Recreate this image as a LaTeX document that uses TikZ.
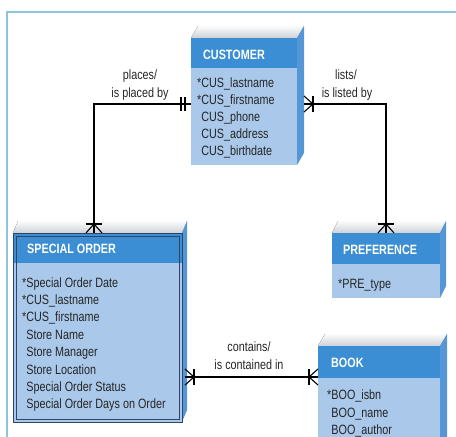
\documentclass[tikz,border=0pt]{standalone}
\usepackage{fontspec}
\setmainfont{Liberation Sans}[FakeStretch=0.8]
\usetikzlibrary{calc}

\definecolor{hdr}{HTML}{3B8ED3}
\definecolor{bodyc}{HTML}{A9C8EA}
\definecolor{sidec}{HTML}{5597D6}
\definecolor{topc}{HTML}{CDD2D7}
\definecolor{framec}{HTML}{8EC4DC}
\definecolor{sobord}{HTML}{2E4566}

\tikzset{
  conn/.style={draw=black, line width=1.1pt},
  attr/.style={font=\fontsize{13.5}{16}\selectfont, text=black!85, inner sep=0pt, anchor=base west},
  ttl/.style={font=\bfseries\fontsize{13.5}{16}\selectfont, text=white, inner sep=0pt, anchor=base west},
  lbl/.style={font=\fontsize{13.5}{16}\selectfont, text=black!85, inner sep=0pt, anchor=base},
  crowmany/.pic={\draw[conn] (0,8) -- (9,0) -- (0,-8); \draw[conn] (9,8) -- (9,-8);},
  crowone/.pic={\draw[conn] (6,7) -- (6,-7); \draw[conn] (10,7) -- (10,-7);}
}

% 3D entity box: #1 name, #2 x1, #3 y1 (top of header), #4 x2, #5 header bottom, #6 bottom, #7 depth
\newcommand\erbox[7]{%
  \fill[top color=white!92!topc, bottom color=topc]
    (#2,#3) -- (#2+#7,#3-12) -- (#4+#7,#3-12) -- (#4,#3) -- cycle;
  \fill[sidec] (#4,#3) -- (#4+#7,#3-12) -- (#4+#7,#6-12) -- (#4,#6) -- cycle;
  \fill[bodyc] (#2,#3) rectangle (#4,#6);
  \fill[hdr] (#2,#3) rectangle (#4,#5);
  \node[inner sep=0pt, outer sep=0pt, minimum width={(#4-#2)*1pt},
        minimum height={(#6-#3)*1pt}, anchor=north west] (#1) at (#2,#3) {};
}

\begin{document}
\begin{tikzpicture}[x=1pt, y=-1pt]
\clip (0,0) rectangle (456,437);
\fill[white] (0,0) rectangle (456,437);

% page frame
\draw[framec, line width=1.5pt] (7,437) -- (7,12) -- (456,12);

% entities
\erbox{cust}{191}{38}{297}{68}{165}{7}
\erbox{so}{13}{233}{182}{263}{422}{5}
\erbox{pref}{332}{233}{440}{264}{298}{6}
\erbox{book}{318}{346}{440}{378}{470}{7}

% double border of the special order entity
\draw[sobord, line width=1pt] (13,233) rectangle (182,422);
\fill[hdr] (16,236) rectangle (179,263);
\draw[sobord, line width=0.8pt] (16,236) rectangle (179,419);

% titles
\node[ttl] (custt) at (203,59.5) {CUSTOMER};
\node[ttl] (sot) at (27,253.5) {SPECIAL ORDER};
\node[ttl] (preft) at (343,254) {PREFERENCE};
\node[ttl] (bookt) at (331,367.5) {BOOK};

% attributes
\foreach \t [count=\i] in {*CUS\_lastname, *CUS\_firstname, \phantom{*}CUS\_phone,
    \phantom{*}CUS\_address, \phantom{*}CUS\_birthdate}
  \node[attr] (custa\i) at (197,{87+17*(\i-1)}) {\t};
\foreach \t [count=\i] in {*Special Order Date, *CUS\_lastname, *CUS\_firstname,
    \phantom{*}Store Name, \phantom{*}Store Manager, \phantom{*}Store Location,
    \phantom{*}Special Order Status, \phantom{*}Special Order Days on Order}
  \node[attr] (soa\i) at (22,{287+17.4*(\i-1)}) {\t};
\node[attr] (prefa1) at (338,288.5) {*PRE\_type};
\foreach \t [count=\i] in {*BOO\_isbn, \phantom{*}BOO\_name, \phantom{*}BOO\_author}
  \node[attr] (booka\i) at (327,{399.5+17.5*(\i-1)}) {\t};

% relationships
\coordinate (kL) at (94,104);
\coordinate (kR) at (386,104);
\coordinate (kB) at (250,377);

\draw[conn] (cust.west |- kL) -- (kL) -- (so.north -| kL);
\pic[rotate=180] at (cust.west |- kL) {crowone};
\pic[rotate=90] at (so.north -| kL) {crowmany};

\draw[conn] ($(cust.east |- kR)+(7,0)$) -- (kR) -- (pref.north -| kR);
\pic at ($(cust.east |- kR)+(7,0)$) {crowmany};
\pic[rotate=90] at (pref.north -| kR) {crowmany};

\draw[conn] ($(so.east |- kB)+(3,0)$) -- (book.west |- kB);
\pic at ($(so.east |- kB)+(3,0)$) {crowmany};
\pic[rotate=180] at (book.west |- kB) {crowmany};

% relationship labels
\node[lbl] (r1a) at (140,79.5) {places/};
\node[lbl] (r1b) at (140,97.5) {is placed by};
\node[lbl] (r2a) at (346,79.5) {lists/};
\node[lbl] (r2b) at (347,97.5) {is listed by};
\node[lbl] (r3a) at (249,351.5) {contains/};
\node[lbl] (r3b) at (249,369.5) {is contained in};
\end{tikzpicture}
\end{document}
